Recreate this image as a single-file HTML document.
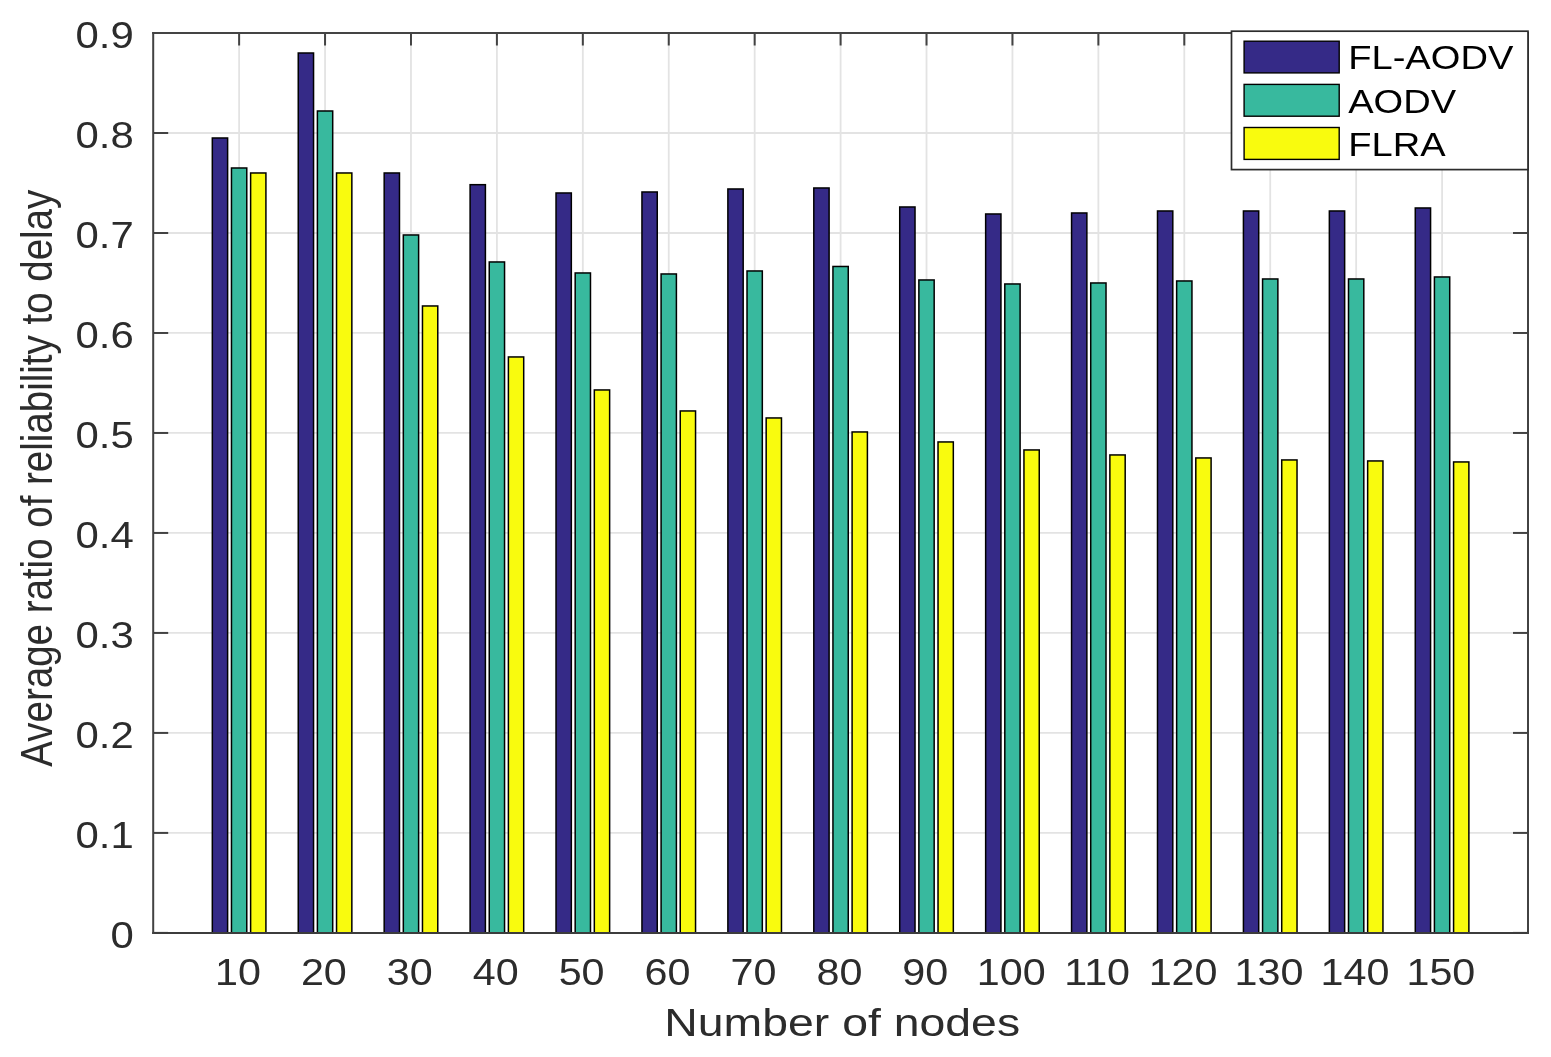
<!DOCTYPE html>
<html lang="en"><head><meta charset="utf-8"><title>Average ratio of reliability to delay</title>
<style>
html,body{margin:0;padding:0;background:#fff;}
body{width:1551px;height:1057px;overflow:hidden;}
svg{display:block;}
text{font-family:'Liberation Sans', sans-serif;}
.tk{font-size:36.2px;fill:#2c2c2c;}
.lb{font-size:38.8px;fill:#2c2c2c;}
.yl{font-size:38.5px;fill:#2c2c2c;}
.lg{font-size:32.4px;fill:#000;}
</style></head><body>
<svg width="1551" height="1057" viewBox="0 0 1551 1057">
<rect x="0" y="0" width="1551" height="1057" fill="#ffffff"/>
<g>
<g stroke="#e3e3e3" stroke-width="1.8" fill="none">
<line x1="239.12" y1="33.00" x2="239.12" y2="932.90"/>
<line x1="325.05" y1="33.00" x2="325.05" y2="932.90"/>
<line x1="410.97" y1="33.00" x2="410.97" y2="932.90"/>
<line x1="496.90" y1="33.00" x2="496.90" y2="932.90"/>
<line x1="582.83" y1="33.00" x2="582.83" y2="932.90"/>
<line x1="668.75" y1="33.00" x2="668.75" y2="932.90"/>
<line x1="754.67" y1="33.00" x2="754.67" y2="932.90"/>
<line x1="840.60" y1="33.00" x2="840.60" y2="932.90"/>
<line x1="926.52" y1="33.00" x2="926.52" y2="932.90"/>
<line x1="1012.45" y1="33.00" x2="1012.45" y2="932.90"/>
<line x1="1098.38" y1="33.00" x2="1098.38" y2="932.90"/>
<line x1="1184.30" y1="33.00" x2="1184.30" y2="932.90"/>
<line x1="1270.22" y1="33.00" x2="1270.22" y2="932.90"/>
<line x1="1356.15" y1="33.00" x2="1356.15" y2="932.90"/>
<line x1="1442.08" y1="33.00" x2="1442.08" y2="932.90"/>
<line x1="153.20" y1="832.91" x2="1528.00" y2="832.91"/>
<line x1="153.20" y1="732.92" x2="1528.00" y2="732.92"/>
<line x1="153.20" y1="632.93" x2="1528.00" y2="632.93"/>
<line x1="153.20" y1="532.94" x2="1528.00" y2="532.94"/>
<line x1="153.20" y1="432.96" x2="1528.00" y2="432.96"/>
<line x1="153.20" y1="332.97" x2="1528.00" y2="332.97"/>
<line x1="153.20" y1="232.98" x2="1528.00" y2="232.98"/>
<line x1="153.20" y1="132.99" x2="1528.00" y2="132.99"/>
</g>
<g stroke="#424242" stroke-width="2" fill="none">
<line x1="239.12" y1="33.00" x2="239.12" y2="45.50"/>
<line x1="239.12" y1="932.90" x2="239.12" y2="920.40"/>
<line x1="325.05" y1="33.00" x2="325.05" y2="45.50"/>
<line x1="325.05" y1="932.90" x2="325.05" y2="920.40"/>
<line x1="410.97" y1="33.00" x2="410.97" y2="45.50"/>
<line x1="410.97" y1="932.90" x2="410.97" y2="920.40"/>
<line x1="496.90" y1="33.00" x2="496.90" y2="45.50"/>
<line x1="496.90" y1="932.90" x2="496.90" y2="920.40"/>
<line x1="582.83" y1="33.00" x2="582.83" y2="45.50"/>
<line x1="582.83" y1="932.90" x2="582.83" y2="920.40"/>
<line x1="668.75" y1="33.00" x2="668.75" y2="45.50"/>
<line x1="668.75" y1="932.90" x2="668.75" y2="920.40"/>
<line x1="754.67" y1="33.00" x2="754.67" y2="45.50"/>
<line x1="754.67" y1="932.90" x2="754.67" y2="920.40"/>
<line x1="840.60" y1="33.00" x2="840.60" y2="45.50"/>
<line x1="840.60" y1="932.90" x2="840.60" y2="920.40"/>
<line x1="926.52" y1="33.00" x2="926.52" y2="45.50"/>
<line x1="926.52" y1="932.90" x2="926.52" y2="920.40"/>
<line x1="1012.45" y1="33.00" x2="1012.45" y2="45.50"/>
<line x1="1012.45" y1="932.90" x2="1012.45" y2="920.40"/>
<line x1="1098.38" y1="33.00" x2="1098.38" y2="45.50"/>
<line x1="1098.38" y1="932.90" x2="1098.38" y2="920.40"/>
<line x1="1184.30" y1="33.00" x2="1184.30" y2="45.50"/>
<line x1="1184.30" y1="932.90" x2="1184.30" y2="920.40"/>
<line x1="1270.22" y1="33.00" x2="1270.22" y2="45.50"/>
<line x1="1270.22" y1="932.90" x2="1270.22" y2="920.40"/>
<line x1="1356.15" y1="33.00" x2="1356.15" y2="45.50"/>
<line x1="1356.15" y1="932.90" x2="1356.15" y2="920.40"/>
<line x1="1442.08" y1="33.00" x2="1442.08" y2="45.50"/>
<line x1="1442.08" y1="932.90" x2="1442.08" y2="920.40"/>
<line x1="153.20" y1="932.90" x2="168.20" y2="932.90"/>
<line x1="1528.00" y1="932.90" x2="1513.00" y2="932.90"/>
<line x1="153.20" y1="832.91" x2="168.20" y2="832.91"/>
<line x1="1528.00" y1="832.91" x2="1513.00" y2="832.91"/>
<line x1="153.20" y1="732.92" x2="168.20" y2="732.92"/>
<line x1="1528.00" y1="732.92" x2="1513.00" y2="732.92"/>
<line x1="153.20" y1="632.93" x2="168.20" y2="632.93"/>
<line x1="1528.00" y1="632.93" x2="1513.00" y2="632.93"/>
<line x1="153.20" y1="532.94" x2="168.20" y2="532.94"/>
<line x1="1528.00" y1="532.94" x2="1513.00" y2="532.94"/>
<line x1="153.20" y1="432.96" x2="168.20" y2="432.96"/>
<line x1="1528.00" y1="432.96" x2="1513.00" y2="432.96"/>
<line x1="153.20" y1="332.97" x2="168.20" y2="332.97"/>
<line x1="1528.00" y1="332.97" x2="1513.00" y2="332.97"/>
<line x1="153.20" y1="232.98" x2="168.20" y2="232.98"/>
<line x1="1528.00" y1="232.98" x2="1513.00" y2="232.98"/>
<line x1="153.20" y1="132.99" x2="168.20" y2="132.99"/>
<line x1="1528.00" y1="132.99" x2="1513.00" y2="132.99"/>
<line x1="153.20" y1="33.00" x2="168.20" y2="33.00"/>
<line x1="1528.00" y1="33.00" x2="1513.00" y2="33.00"/>
</g>
<g fill="#352a87" stroke="#000000" stroke-width="1.5">
<rect x="212.32" y="137.99" width="15.30" height="794.91"/>
<rect x="298.25" y="53.00" width="15.30" height="879.90"/>
<rect x="384.18" y="172.98" width="15.30" height="759.92"/>
<rect x="470.10" y="184.68" width="15.30" height="748.22"/>
<rect x="556.03" y="192.98" width="15.30" height="739.92"/>
<rect x="641.95" y="191.98" width="15.30" height="740.92"/>
<rect x="727.88" y="188.98" width="15.30" height="743.92"/>
<rect x="813.80" y="187.98" width="15.30" height="744.92"/>
<rect x="899.72" y="206.98" width="15.30" height="725.92"/>
<rect x="985.65" y="213.98" width="15.30" height="718.92"/>
<rect x="1071.57" y="212.98" width="15.30" height="719.92"/>
<rect x="1157.50" y="210.98" width="15.30" height="721.92"/>
<rect x="1243.42" y="210.98" width="15.30" height="721.92"/>
<rect x="1329.35" y="210.98" width="15.30" height="721.92"/>
<rect x="1415.27" y="207.98" width="15.30" height="724.92"/>
</g>
<g fill="#38b99e" stroke="#000000" stroke-width="1.5">
<rect x="231.47" y="167.99" width="15.30" height="764.91"/>
<rect x="317.40" y="110.99" width="15.30" height="821.91"/>
<rect x="403.32" y="234.98" width="15.30" height="697.92"/>
<rect x="489.25" y="261.97" width="15.30" height="670.93"/>
<rect x="575.18" y="272.97" width="15.30" height="659.93"/>
<rect x="661.10" y="273.97" width="15.30" height="658.93"/>
<rect x="747.02" y="270.97" width="15.30" height="661.93"/>
<rect x="832.95" y="266.47" width="15.30" height="666.43"/>
<rect x="918.87" y="279.97" width="15.30" height="652.93"/>
<rect x="1004.80" y="283.97" width="15.30" height="648.93"/>
<rect x="1090.72" y="282.97" width="15.30" height="649.93"/>
<rect x="1176.65" y="280.97" width="15.30" height="651.93"/>
<rect x="1262.57" y="278.97" width="15.30" height="653.93"/>
<rect x="1348.50" y="278.97" width="15.30" height="653.93"/>
<rect x="1434.42" y="276.97" width="15.30" height="655.93"/>
</g>
<g fill="#f9fb0e" stroke="#000000" stroke-width="1.5">
<rect x="250.62" y="172.98" width="15.30" height="759.92"/>
<rect x="336.55" y="172.98" width="15.30" height="759.92"/>
<rect x="422.47" y="305.97" width="15.30" height="626.93"/>
<rect x="508.40" y="356.96" width="15.30" height="575.94"/>
<rect x="594.33" y="389.96" width="15.30" height="542.94"/>
<rect x="680.25" y="410.96" width="15.30" height="521.94"/>
<rect x="766.17" y="417.96" width="15.30" height="514.94"/>
<rect x="852.10" y="431.96" width="15.30" height="500.94"/>
<rect x="938.02" y="441.95" width="15.30" height="490.95"/>
<rect x="1023.95" y="449.95" width="15.30" height="482.95"/>
<rect x="1109.88" y="454.95" width="15.30" height="477.95"/>
<rect x="1195.80" y="457.95" width="15.30" height="474.95"/>
<rect x="1281.72" y="459.95" width="15.30" height="472.95"/>
<rect x="1367.65" y="460.95" width="15.30" height="471.95"/>
<rect x="1453.58" y="461.95" width="15.30" height="470.95"/>
</g>
<g fill="none" stroke-width="2" stroke-linecap="butt">
<line x1="152.20" y1="33.00" x2="1529.00" y2="33.00" stroke="#444444"/>
<line x1="152.20" y1="932.90" x2="1529.00" y2="932.90" stroke="#3c3c3c"/>
<line x1="153.20" y1="32.00" x2="153.20" y2="933.90" stroke="#424242"/>
<line x1="1528.00" y1="32.00" x2="1528.00" y2="933.90" stroke="#424242"/>
</g>
<rect x="1231.50" y="31.20" width="296.50" height="138.40" fill="#ffffff" stroke="#2c2c2c" stroke-width="1.7"/>
<rect x="1244.10" y="41.20" width="95.10" height="31.70" fill="#352a87" stroke="#000000" stroke-width="1.4"/>
<text class="lg" text-anchor="start" transform="translate(1348.20,69.40) scale(1.1759,1)">FL-AODV</text>
<rect x="1244.10" y="84.40" width="95.10" height="31.80" fill="#38b99e" stroke="#000000" stroke-width="1.4"/>
<text class="lg" text-anchor="start" transform="translate(1348.20,112.80) scale(1.1759,1)">AODV</text>
<rect x="1244.10" y="127.50" width="95.10" height="31.90" fill="#f9fb0e" stroke="#000000" stroke-width="1.4"/>
<text class="lg" text-anchor="start" transform="translate(1348.20,156.00) scale(1.1759,1)">FLRA</text>
<text class="tk" text-anchor="end" transform="translate(133.80,948.10) scale(1.1575,1)">0</text>
<text class="tk" text-anchor="end" transform="translate(133.80,848.11) scale(1.1575,1)">0.1</text>
<text class="tk" text-anchor="end" transform="translate(133.80,748.12) scale(1.1575,1)">0.2</text>
<text class="tk" text-anchor="end" transform="translate(133.80,648.13) scale(1.1575,1)">0.3</text>
<text class="tk" text-anchor="end" transform="translate(133.80,548.14) scale(1.1575,1)">0.4</text>
<text class="tk" text-anchor="end" transform="translate(133.80,448.16) scale(1.1575,1)">0.5</text>
<text class="tk" text-anchor="end" transform="translate(133.80,348.17) scale(1.1575,1)">0.6</text>
<text class="tk" text-anchor="end" transform="translate(133.80,248.18) scale(1.1575,1)">0.7</text>
<text class="tk" text-anchor="end" transform="translate(133.80,148.19) scale(1.1575,1)">0.8</text>
<text class="tk" text-anchor="end" transform="translate(133.80,48.20) scale(1.1575,1)">0.9</text>
<text class="tk" text-anchor="middle" transform="translate(237.93,984.70) scale(1.1409,1)">10</text>
<text class="tk" text-anchor="middle" transform="translate(323.85,984.70) scale(1.1409,1)">20</text>
<text class="tk" text-anchor="middle" transform="translate(409.77,984.70) scale(1.1409,1)">30</text>
<text class="tk" text-anchor="middle" transform="translate(495.70,984.70) scale(1.1409,1)">40</text>
<text class="tk" text-anchor="middle" transform="translate(581.62,984.70) scale(1.1409,1)">50</text>
<text class="tk" text-anchor="middle" transform="translate(667.55,984.70) scale(1.1409,1)">60</text>
<text class="tk" text-anchor="middle" transform="translate(753.47,984.70) scale(1.1409,1)">70</text>
<text class="tk" text-anchor="middle" transform="translate(839.40,984.70) scale(1.1409,1)">80</text>
<text class="tk" text-anchor="middle" transform="translate(925.32,984.70) scale(1.1409,1)">90</text>
<text class="tk" text-anchor="middle" transform="translate(1011.25,984.70) scale(1.1409,1)">100</text>
<text class="tk" text-anchor="middle" transform="translate(1097.17,984.70) scale(1.1409,1)">110</text>
<text class="tk" text-anchor="middle" transform="translate(1183.10,984.70) scale(1.1409,1)">120</text>
<text class="tk" text-anchor="middle" transform="translate(1269.02,984.70) scale(1.1409,1)">130</text>
<text class="tk" text-anchor="middle" transform="translate(1354.95,984.70) scale(1.1409,1)">140</text>
<text class="tk" text-anchor="middle" transform="translate(1440.88,984.70) scale(1.1409,1)">150</text>
<text class="lb" text-anchor="middle" transform="translate(842.20,1036.20) scale(1.1959,1)">Number of nodes</text>
<text class="yl" text-anchor="middle" transform="translate(52.20,478.20) rotate(-90) scale(1,1.1688)">Average ratio of reliability to delay</text>
</g>
</svg>
</body></html>
